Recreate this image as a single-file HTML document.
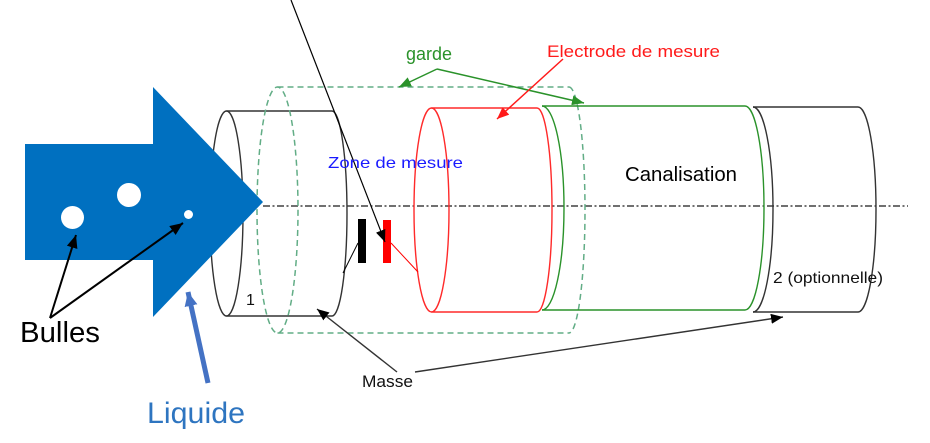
<!DOCTYPE html>
<html><head><meta charset="utf-8"><style>
html,body{margin:0;padding:0;background:#fff;}
svg{display:block;}
text{font-family:"Liberation Sans",sans-serif;}
</style></head><body>
<svg width="930" height="443" viewBox="0 0 930 443" xmlns="http://www.w3.org/2000/svg">
<defs>
<marker id="mb" markerUnits="userSpaceOnUse" markerWidth="14" markerHeight="12" refX="12" refY="5" orient="auto"><path d="M0,0 L12,5 L0,10 Z" fill="#000"/></marker>
<marker id="mb2" markerUnits="userSpaceOnUse" markerWidth="16" markerHeight="14" refX="13" refY="5.5" orient="auto"><path d="M0,0 L13,5.5 L0,11 Z" fill="#000"/></marker>
<marker id="mg" markerUnits="userSpaceOnUse" markerWidth="14" markerHeight="12" refX="12" refY="5" orient="auto"><path d="M0,0 L12,5 L0,10 Z" fill="#2a922a"/></marker>
<marker id="mr" markerUnits="userSpaceOnUse" markerWidth="14" markerHeight="12" refX="12" refY="5" orient="auto"><path d="M0,0 L12,5 L0,10 Z" fill="#ff1a1a"/></marker>
<marker id="ml" markerUnits="userSpaceOnUse" markerWidth="16" markerHeight="14" refX="14" refY="6.5" orient="auto"><path d="M0,0 L14,6.5 L0,13 Z" fill="#4472c4"/></marker>
</defs>
<rect width="930" height="443" fill="#fff"/>

<!-- centerline -->
<line x1="263" y1="206" x2="908" y2="206" stroke="#404040" stroke-width="1.5" stroke-dasharray="7 2.5 2 2.5"/>

<!-- cylinder 1 (black) -->
<g fill="none" stroke="#333" stroke-width="1.4">
<ellipse cx="226.5" cy="213.5" rx="16.5" ry="102.5"/>
<line x1="226.5" y1="111" x2="332" y2="111"/>
<line x1="226.5" y1="316" x2="332" y2="316"/>
<path d="M332,111 A15,102.5 0 0 1 332,316"/>
</g>

<!-- guard dashed -->
<g fill="none" stroke="#62ad86" stroke-width="1.5" stroke-dasharray="6 4">
<ellipse cx="277.5" cy="210" rx="20.5" ry="123"/>
<line x1="277.5" y1="87" x2="569" y2="87"/>
<line x1="277.5" y1="333" x2="569" y2="333"/>
<path d="M569,87 A16,123 0 0 1 569,333"/>
</g>

<!-- red cylinder -->
<g fill="none" stroke="#ff2a2a" stroke-width="1.4">
<ellipse cx="431.5" cy="210" rx="17.5" ry="102"/>
<line x1="431.5" y1="108" x2="537" y2="108"/>
<line x1="431.5" y1="312" x2="537" y2="312"/>
<path d="M537,108 A15,102 0 0 1 537,312"/>
</g>

<!-- green cylinder -->
<g fill="none" stroke="#2a922a" stroke-width="1.4">
<path d="M542,106 A22,102 0 0 1 542,310"/>
<line x1="542" y1="106" x2="745" y2="106"/>
<line x1="542" y1="310" x2="745" y2="310"/>
<path d="M745,106 A19,102 0 0 1 745,310"/>
</g>

<!-- black cylinder 2 -->
<g fill="none" stroke="#333" stroke-width="1.4">
<path d="M753,107 A20,102.5 0 0 1 753,312"/>
<line x1="753" y1="107" x2="858" y2="107"/>
<line x1="753" y1="312" x2="858" y2="312"/>
<path d="M858,107 A18,102.5 0 0 1 858,312"/>
</g>

<!-- blue big arrow -->
<path d="M25,144 L153,144 L153,87 L263,202 L153,317 L153,260 L25,260 Z" fill="#0070c0"/>
<circle cx="72.5" cy="217.5" r="11.5" fill="#fff"/>
<circle cx="129" cy="195" r="12" fill="#fff"/>
<circle cx="188.5" cy="214.5" r="4.5" fill="#fff"/>

<!-- bars -->
<rect x="358" y="219" width="8" height="44" fill="#000"/>
<rect x="383" y="220" width="8" height="43" fill="#ff0000"/>
<line x1="358" y1="243" x2="343" y2="273" stroke="#000" stroke-width="1"/>
<line x1="391" y1="243" x2="418" y2="272" stroke="#ff0000" stroke-width="1"/>

<!-- long black line -->
<line x1="291" y1="0" x2="385" y2="242" stroke="#000" stroke-width="1.2" marker-end="url(#mb)"/>

<!-- Bulles arrows -->
<line x1="50" y1="318" x2="76" y2="235" stroke="#000" stroke-width="2" marker-end="url(#mb2)"/>
<line x1="50" y1="318" x2="183" y2="223" stroke="#000" stroke-width="2" marker-end="url(#mb2)"/>

<!-- Liquide arrow -->
<line x1="208" y1="383" x2="188" y2="292" stroke="#4472c4" stroke-width="5" marker-end="url(#ml)"/>

<!-- Masse arrows -->
<line x1="397" y1="372" x2="317" y2="309" stroke="#333" stroke-width="1.4" marker-end="url(#mb)"/>
<line x1="415" y1="372" x2="783" y2="317" stroke="#333" stroke-width="1.4" marker-end="url(#mb)"/>

<!-- garde arrows -->
<line x1="437" y1="69" x2="399" y2="87" stroke="#2a922a" stroke-width="1.5" marker-end="url(#mg)"/>
<line x1="437" y1="69" x2="584" y2="103" stroke="#2a922a" stroke-width="1.5" marker-end="url(#mg)"/>

<!-- electrode arrow -->
<line x1="563" y1="59" x2="497" y2="119" stroke="#ff1a1a" stroke-width="1.5" marker-end="url(#mr)"/>

<!-- texts -->
<text x="20" y="342" font-size="29" fill="#000" textLength="80" lengthAdjust="spacingAndGlyphs">Bulles</text>
<text x="147" y="423" font-size="30" fill="#2e75c0" textLength="98" lengthAdjust="spacingAndGlyphs">Liquide</text>
<text x="362" y="387" font-size="16.5" fill="#111" textLength="51" lengthAdjust="spacingAndGlyphs">Masse</text>
<text x="246" y="305" font-size="16" fill="#111">1</text>
<text x="328" y="168" font-size="16" fill="#1a1aff" textLength="135" lengthAdjust="spacingAndGlyphs">Zone de mesure</text>
<text x="406" y="60" font-size="18" fill="#2a922a" textLength="46" lengthAdjust="spacingAndGlyphs">garde</text>
<text x="547" y="57" font-size="17" fill="#ff1a1a" textLength="173" lengthAdjust="spacingAndGlyphs">Electrode de mesure</text>
<text x="625" y="181" font-size="20.5" fill="#000" textLength="112" lengthAdjust="spacingAndGlyphs">Canalisation</text>
<text x="773" y="283" font-size="16" fill="#111" textLength="110" lengthAdjust="spacingAndGlyphs">2 (optionnelle)</text>
</svg>
</body></html>
